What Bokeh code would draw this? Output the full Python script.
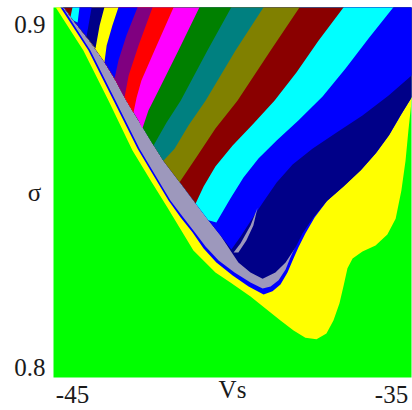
from bokeh.plotting import figure
from bokeh.models import Range1d, FixedTicker, ColumnDataSource
from bokeh.embed import file_html
from bokeh.resources import INLINE

# ---- axis ticks ----
vs_ticks = [-45, -35]
vs_tick_labels = ["-45", "-35"]
sigma_ticks = [0.8, 0.9]

# ---- region boundaries (Vs, sigma) ----
# yellow region (stripe along the diagonal + lower-right lobe), outer edge
yellow_vs = [-45.69, -45.69, -45.53, -44.66, -43.87, -43.12, -42.55, -42.02, -41.21, -40.52, -40.05,
             -39.42, -38.95, -38.48, -38.07, -37.70, -37.35, -37.04, -36.82, -36.63, -36.50, -36.38,
             -36.22, -35.91, -35.50, -35.13, -34.87, -34.69, -34.56, -34.47, -34.37, -34.09, -34.09]
yellow_sigma = [0.9099, 0.9070, 0.9050, 0.8924, 0.8778, 0.8633, 0.8545, 0.8466, 0.8341, 0.8277, 0.8248,
                0.8207, 0.8172, 0.8137, 0.8108, 0.8087, 0.8082, 0.8099, 0.8137, 0.8187, 0.8239, 0.8289,
                0.8318, 0.8338, 0.8356, 0.8388, 0.8434, 0.8516, 0.8603, 0.8691, 0.8778, 0.8808, 0.9099]

# multi-periodic fan, outer edge (blue rim)
fan_vs = [-45.56, -45.50, -45.38, -44.50, -43.71, -42.96, -42.46, -41.99, -41.61, -41.24, -40.89,
          -40.49, -39.98, -39.48, -39.01,
          -38.73, -38.48, -38.26, -38.10, -37.92, -37.70, -37.41, -37.01, -36.47, -35.94, -35.47,
          -35.06, -34.69, -34.37, -33.78, -33.78]
fan_sigma = [0.9099, 0.9070, 0.9050, 0.8924, 0.8778, 0.8638, 0.8560, 0.8487, 0.8437, 0.8394, 0.8347,
             0.8306, 0.8268, 0.8236, 0.8213,
             0.8222, 0.8242, 0.8277, 0.8312, 0.8350, 0.8391, 0.8437, 0.8487, 0.8531, 0.8577, 0.8627,
             0.8679, 0.8738, 0.8787, 0.8851, 0.9099]

# chaotic zone
chaos_vs = [-45.44, -45.44, -45.31, -44.44, -43.65, -42.90, -42.40, -41.93, -41.55, -41.18, -40.83,
            -40.42, -39.92, -39.42, -39.04, -38.79, -38.54, -38.32, -38.17, -38.01, -38.48, -40.99, -43.50]
chaos_sigma = [0.9099, 0.9070, 0.9050, 0.8924, 0.8778, 0.8638, 0.8560, 0.8487, 0.8440, 0.8396, 0.8353,
               0.8312, 0.8277, 0.8248, 0.8230, 0.8236, 0.8254, 0.8286, 0.8321, 0.8353, 0.8487, 0.8778, 0.9099]

# upper edge of the chaotic zone (where the periodic tongues end)
edge_vs = [-45.41, -45.38, -45.28, -44.97, -44.47, -44.03, -43.65, -43.31, -42.93, -42.55, -42.15,
           -41.68, -41.21, -40.74, -40.36, -40.05]
edge_sigma = [0.9099, 0.9070, 0.9050, 0.9012, 0.8953, 0.8895, 0.8837, 0.8778, 0.8720, 0.8662, 0.8603,
              0.8545, 0.8487, 0.8429, 0.8385, 0.8341]

# gray horn between the blue and navy tongues
horn_vs = [-39.20, -39.42, -39.73, -39.95, -39.80, -39.55, -39.33]
horn_sigma = [0.8466, 0.8414, 0.8362, 0.8335, 0.8335, 0.8370, 0.8414]

# right-hand boundary of each periodic tongue (from the top edge down to the chaotic zone)
tongue_colors = ["#000088", "#0000ff", "#00ffff", "#8a0000", "#808000", "#008080", "#008000",
                 "#ff00ff", "#ff0000", "#800080", "#0000ff", "#ffff00", "#000088", "#0000ff",
                 "#00ffff", "#8a0000"]
tongue_vs = [
    [-33.78, -33.78, -34.37, -34.72, -35.09, -35.50, -35.97, -36.50, -37.04, -37.48, -37.79, -38.01,
     -38.32, -38.64, -39.04, -39.42, -39.80, -40.05],
    [-33.78, -33.93, -34.37, -35.09, -35.91, -36.72, -37.48, -38.10, -38.60, -39.01, -39.39, -39.73, -40.02],
    [-34.69, -34.94, -35.72, -36.44, -37.16, -37.92, -38.60, -39.17, -39.64, -40.05, -40.49],
    [-36.25, -36.50, -37.29, -37.98, -38.67, -39.36, -39.98, -40.52, -40.89, -41.14],
    [-37.63, -37.88, -38.79, -39.83, -40.52, -41.08, -41.65],
    [-38.79, -39.01, -39.89, -40.83, -41.36, -41.80, -42.15],
    [-39.80, -40.02, -40.77, -41.61, -42.05, -42.46],
    [-40.83, -41.02, -41.68, -42.30, -42.62, -42.81],
    [-41.65, -41.83, -42.43, -42.84, -42.99, -43.09],
    [-42.34, -42.49, -42.93, -43.24, -43.37],
    [-42.81, -42.96, -43.31, -43.56, -43.68],
    [-43.43, -43.56, -43.75, -43.93, -44.00],
    [-43.87, -44.00, -44.15, -44.28],
    [-44.28, -44.40, -44.50, -44.56],
    [-44.69, -44.78, -44.84],
    [-44.91, -45.00, -45.06],
]
tongue_sigma = [
    [0.9099, 0.8851, 0.8787, 0.8735, 0.8676, 0.8624, 0.8574, 0.8528, 0.8484, 0.8434, 0.8391, 0.8350,
     0.8306, 0.8277, 0.8259, 0.8277, 0.8306, 0.8341],
    [0.9099, 0.8939, 0.8851, 0.8793, 0.8735, 0.8685, 0.8638, 0.8592, 0.8539, 0.8484, 0.8431, 0.8382, 0.8344],
    [0.9070, 0.9050, 0.8959, 0.8872, 0.8790, 0.8720, 0.8662, 0.8609, 0.8554, 0.8493, 0.8423],
    [0.9070, 0.9050, 0.8953, 0.8860, 0.8778, 0.8708, 0.8647, 0.8586, 0.8528, 0.8478],
    [0.9070, 0.9050, 0.8924, 0.8778, 0.8697, 0.8618, 0.8539],
    [0.9070, 0.9050, 0.8924, 0.8778, 0.8706, 0.8638, 0.8603],
    [0.9070, 0.9050, 0.8924, 0.8778, 0.8714, 0.8647],
    [0.9070, 0.9050, 0.8924, 0.8808, 0.8749, 0.8697],
    [0.9070, 0.9050, 0.8924, 0.8837, 0.8787, 0.8743],
    [0.9070, 0.9050, 0.8939, 0.8851, 0.8787],
    [0.9070, 0.9050, 0.8968, 0.8895, 0.8843],
    [0.9070, 0.9050, 0.8997, 0.8939, 0.8889],
    [0.9070, 0.9050, 0.8997, 0.8930],
    [0.9070, 0.9050, 0.8997, 0.8965],
    [0.9070, 0.9050, 0.9006],
    [0.9070, 0.9050, 0.9023],
]

GREEN = "#00ff00"
YELLOW = "#ffff00"
RIM = "#0000ff"
CHAOS = "#9d98bc"

# ---- build the layered regions ----
xs, ys, cols = [], [], []
xs.append(yellow_vs); ys.append(yellow_sigma); cols.append(YELLOW)
xs.append(fan_vs); ys.append(fan_sigma); cols.append(RIM)
xs.append(chaos_vs); ys.append(chaos_sigma); cols.append(CHAOS)
for tv, ts, c in zip(tongue_vs, tongue_sigma, tongue_colors):
    end_s = ts[-1]
    back = [(v, s) for v, s in zip(edge_vs, edge_sigma) if s > end_s][::-1]
    xs.append(list(tv) + [b[0] for b in back])
    ys.append(list(ts) + [b[1] for b in back])
    cols.append(c)
xs.append(horn_vs); ys.append(horn_sigma); cols.append(CHAOS)

src = ColumnDataSource(dict(xs=xs, ys=ys, color=cols))

p = figure(width=412, height=410,
           x_range=Range1d(-45.596, -34.373), y_range=Range1d(0.79708, 0.90496),
           output_backend="svg", toolbar_location=None,
           min_border_left=53, min_border_right=1, min_border_top=7, min_border_bottom=33)
p.background_fill_color = GREEN
p.border_fill_color = "white"
p.outline_line_color = None
p.grid.visible = False

p.patches("xs", "ys", fill_color="color", line_color=None, source=src)

p.xaxis.ticker = FixedTicker(ticks=vs_ticks)
p.xaxis.major_label_overrides = dict(zip(vs_ticks, vs_tick_labels))
p.yaxis.ticker = FixedTicker(ticks=sigma_ticks)
for ax in (p.xaxis[0], p.yaxis[0]):
    ax.axis_line_color = None
    ax.major_tick_line_color = None
    ax.minor_tick_line_color = None
    ax.major_tick_out = 0
    ax.major_tick_in = 0
    ax.major_label_text_font = "Liberation Serif"
    ax.major_label_text_font_size = "25px"
    ax.major_label_text_color = "#1a1a1a"
    ax.axis_label_text_font = "Liberation Serif"
    ax.axis_label_text_font_size = "25px"
    ax.axis_label_text_font_style = "normal"
    ax.axis_label_text_color = "#1a1a1a"

p.xaxis.axis_label = "Vs"
p.yaxis.axis_label = "σ"
p.xaxis.major_label_standoff = 8
p.xaxis.axis_label_standoff = -30
p.yaxis.major_label_standoff = 8
p.yaxis.axis_label_standoff = -30
p.yaxis.axis_label_orientation = "horizontal"

open("out.html", "w").write(file_html(p, INLINE))
